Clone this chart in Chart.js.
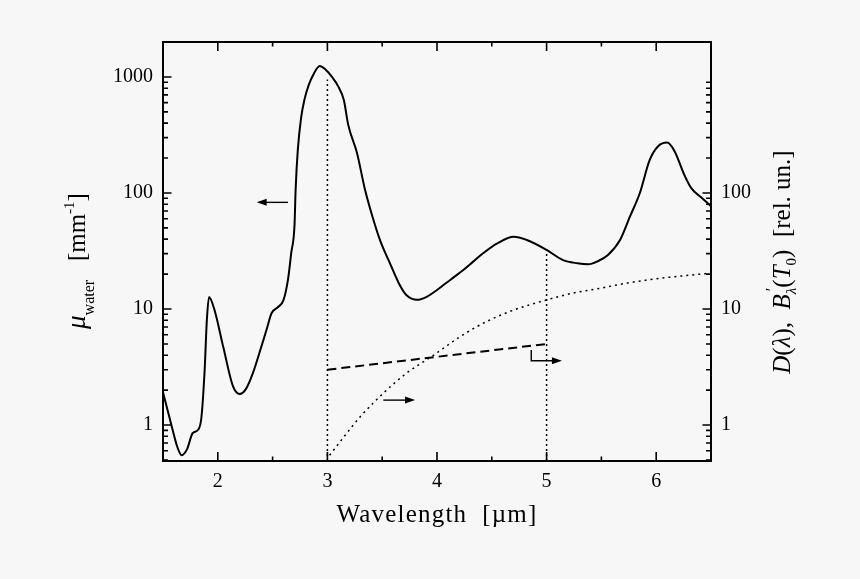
<!DOCTYPE html>
<html>
<head>
<meta charset="utf-8">
<script src="https://cdn.jsdelivr.net/npm/chart.js@4/dist/chart.umd.min.js"></script>
<style>
  html, body { margin: 0; background: #f7f7f7; }
  #wrap { width: 860px; height: 579px; }
</style>
</head>
<body>
<div id="wrap"><canvas id="chart"></canvas></div>
<script>
// water absorption coefficient, mm^-1 (left axis)
const wavelength = [1.50, 1.58, 1.63, 1.67, 1.72, 1.77, 1.82, 1.85, 1.88, 1.90,
  1.92, 1.97, 2.05, 2.14, 2.20, 2.26, 2.32, 2.39, 2.45, 2.49, 2.55,
  2.60, 2.64, 2.67, 2.70, 2.71, 2.73, 2.76, 2.79, 2.83, 2.87, 2.93,
  2.98, 3.04, 3.10, 3.15, 3.19, 3.27, 3.34, 3.40, 3.48, 3.57,
  3.66, 3.72, 3.82, 3.91, 4.00, 4.12, 4.24, 4.33, 4.42, 4.55,
  4.70, 4.82, 5.00, 5.15, 5.28, 5.38, 5.46, 5.56, 5.67, 5.76,
  5.85, 5.94, 6.02, 6.10, 6.17, 6.25, 6.32, 6.42, 6.50];
const muWater = [1.92, 0.97, 0.65, 0.55, 0.62, 0.85, 0.91, 1.15, 2.98, 8.0,
  12.7, 9.8, 4.7, 2.14, 1.85, 2.07, 2.8, 4.5, 6.9, 9.2, 10.4,
  12.0, 17.8, 30.4, 53, 106, 235, 443, 634, 853, 1041, 1244,
  1165, 1006, 825, 632, 386, 221, 110, 68, 39.3, 24.9,
  16.1, 13.2, 12.0, 12.8, 14.6, 17.8, 21.7, 25.6, 30.2, 36.8,
  42.0, 39.3, 32.3, 26.4, 24.8, 24.3, 25.6, 29.2, 39.3, 62.5,
  99.4, 192, 254, 272, 227, 148, 110, 90, 77];

// B'(T0), dotted, and D, dashed (right axis)
const bWavelength = [3.02, 3.15, 3.30, 3.51, 3.72, 3.97, 4.21, 4.45, 4.70, 5.00, 5.24, 5.49, 5.73, 6.04, 6.50];
const bPrime = [0.55, 0.79, 1.18, 1.88, 2.79, 4.01, 5.77, 7.78, 9.8, 11.97, 13.7, 15.1, 16.7, 18.4, 20.4];
const dWavelength = [3, 5];
const dValues = [3.0, 5.0];

// vertical dotted markers
const markerX = [3, 5];
const markerTop = [950, 31];

// arrows [x0, y0, x1, y1 ...], last pair is the tip
const arrowLeft = [2.64, 83, 2.355, 83];
const arrowRight = [3.51, 1.64, 3.80, 1.64];
const arrowCorner = [4.86, 4.43, 4.86, 3.58, 5.14, 3.58];

const xTicks = [2, 3, 4, 5, 6];
const xMinor = [2.5, 3.5, 4.5, 5.5];
const leftTicks = [1, 10, 100, 1000];
const rightTicks = [1, 10, 100];
const xMin = 1.5, xMax = 6.5;
const yMin = 0.49, yMax = 2000;

const serif = "'Liberation Serif', 'Times New Roman', serif";

function pts(xs, ys) {
  return xs.map((x, i) => ({ x: x, y: ys[i] }));
}

function minorLogTicks(lo, hi) {
  const out = [];
  for (let e = -1; e <= 3; e++) {
    for (let k = 2; k <= 9; k++) {
      const v = k * Math.pow(10, e);
      if (v > lo && v < hi) out.push(v);
    }
  }
  return out;
}

const frame = {
  id: "frame",
  afterDatasetsDraw(chart) {
    const { ctx, chartArea: a, scales } = chart;
    ctx.save();
    ctx.strokeStyle = "#000";
    ctx.lineWidth = 1.6;
    ctx.beginPath();
    for (const v of xTicks) {
      const p = scales.x.getPixelForValue(v);
      ctx.moveTo(p, a.bottom); ctx.lineTo(p, a.bottom - 9);
      ctx.moveTo(p, a.top); ctx.lineTo(p, a.top + 9);
    }
    for (const v of xMinor) {
      const p = scales.x.getPixelForValue(v);
      ctx.moveTo(p, a.bottom); ctx.lineTo(p, a.bottom - 4.5);
      ctx.moveTo(p, a.top); ctx.lineTo(p, a.top + 4.5);
    }
    for (const v of leftTicks) {
      const p = scales.y.getPixelForValue(v);
      ctx.moveTo(a.left, p); ctx.lineTo(a.left + 8.5, p);
    }
    for (const v of rightTicks) {
      const p = scales.y2.getPixelForValue(v);
      ctx.moveTo(a.right, p); ctx.lineTo(a.right - 8.5, p);
    }
    for (const v of minorLogTicks(yMin, yMax)) {
      const p = scales.y.getPixelForValue(v);
      ctx.moveTo(a.left, p); ctx.lineTo(a.left + 5, p);
      ctx.moveTo(a.right, p); ctx.lineTo(a.right - 5, p);
    }
    ctx.stroke();
    ctx.lineWidth = 2;
    ctx.strokeRect(a.left, a.top, a.right - a.left, a.bottom - a.top);

    // arrows
    ctx.lineWidth = 1.4;
    ctx.fillStyle = "#000";
    for (const arr of [arrowLeft, arrowRight, arrowCorner]) {
      const p = [];
      for (let i = 0; i < arr.length; i += 2) {
        p.push([scales.x.getPixelForValue(arr[i]), scales.y.getPixelForValue(arr[i + 1])]);
      }
      const [tx, ty] = p[p.length - 1];
      const [bx, by] = p[p.length - 2];
      const ang = Math.atan2(ty - by, tx - bx);
      ctx.beginPath();
      ctx.moveTo(p[0][0], p[0][1]);
      for (let i = 1; i < p.length - 1; i++) ctx.lineTo(p[i][0], p[i][1]);
      ctx.lineTo(tx - 8 * Math.cos(ang), ty - 8 * Math.sin(ang));
      ctx.stroke();
      ctx.beginPath();
      ctx.moveTo(tx, ty);
      ctx.lineTo(tx - 10 * Math.cos(ang) + 3.5 * Math.sin(ang), ty - 10 * Math.sin(ang) - 3.5 * Math.cos(ang));
      ctx.lineTo(tx - 10 * Math.cos(ang) - 3.5 * Math.sin(ang), ty - 10 * Math.sin(ang) + 3.5 * Math.cos(ang));
      ctx.closePath();
      ctx.fill();
    }
    ctx.restore();
  }
};

function richText(ctx, segs, x, y, angle) {
  const fontOf = s => (s.it ? "italic " : "") + (s.sz || 25) + "px " + serif;
  let w = 0;
  for (const s of segs) {
    ctx.font = fontOf(s);
    s.w = s.stack ? 0 : ctx.measureText(s.t).width;
    w += s.w;
  }
  ctx.save();
  ctx.translate(x, y);
  ctx.rotate(angle);
  ctx.fillStyle = "#000";
  ctx.textBaseline = "alphabetic";
  let cx = -w / 2;
  for (const s of segs) {
    ctx.font = fontOf(s);
    ctx.fillText(s.t, cx + (s.dx || 0), s.dy || 0);
    cx += s.w;
  }
  ctx.restore();
}

const titles = {
  id: "titles",
  afterDraw(chart) {
    const { ctx, chartArea: a } = chart;
    ctx.save();
    ctx.font = "25px " + serif;
    ctx.fillStyle = "#000";
    ctx.textAlign = "center";
    ctx.textBaseline = "alphabetic";
    ctx.letterSpacing = "1.2px";
    ctx.fillText("Wavelength  [\u00b5m]", (a.left + a.right) / 2, a.bottom + 61);
    ctx.letterSpacing = "0px";
    ctx.textAlign = "left";
    richText(ctx, [
      { t: "\u03bc", it: true, sz: 27 },
      { t: "water", sz: 16, dy: 9 },
      { t: "   [mm" },
      { t: "-1", sz: 15, dy: -11 },
      { t: "]" }
    ], a.left - 78, 261, -Math.PI / 2);
    richText(ctx, [
      { t: "D", it: true },
      { t: "(" },
      { t: "\u03bb", it: true },
      { t: "),  " },
      { t: "B", it: true },
      { t: "\u2032", sz: 17, dy: -13, dx: 3, stack: true },
      { t: "\u03bb", it: true, sz: 15, dy: 6 },
      { t: "(" },
      { t: "T", it: true },
      { t: "0", sz: 15, dy: 6 },
      { t: ")  [rel. un.]" }
    ], a.right + 79, 262, -Math.PI / 2);
    ctx.restore();
  }
};

const tickFont = { family: serif, size: 20 };

new Chart(document.getElementById("chart"), {
  type: "line",
  data: {
    datasets: [
      {
        data: pts(wavelength, muWater),
        yAxisID: "y",
        borderColor: "#000",
        borderWidth: 2,
        pointRadius: 0,
        cubicInterpolationMode: "monotone"
      },
      {
        data: pts(dWavelength, dValues),
        yAxisID: "y2",
        borderColor: "#000",
        borderWidth: 2,
        borderDash: [9, 5],
        pointRadius: 0
      },
      {
        data: pts(bWavelength, bPrime),
        yAxisID: "y2",
        borderColor: "#000",
        borderWidth: 1.5,
        borderDash: [2, 4],
        pointRadius: 0,
        cubicInterpolationMode: "monotone"
      },
      {
        data: pts([markerX[0], markerX[0]], [yMin, markerTop[0]]),
        yAxisID: "y",
        borderColor: "#000",
        borderWidth: 1.5,
        borderDash: [2, 3],
        pointRadius: 0
      },
      {
        data: pts([markerX[1], markerX[1]], [yMin, markerTop[1]]),
        yAxisID: "y",
        borderColor: "#000",
        borderWidth: 1.5,
        borderDash: [2, 3],
        pointRadius: 0
      }
    ]
  },
  options: {
    responsive: true,
    maintainAspectRatio: false,
    animation: false,
    layout: { padding: { top: 42, left: 0, right: 0, bottom: 0 } },
    plugins: { legend: { display: false }, tooltip: { enabled: false } },
    scales: {
      x: {
        type: "linear",
        min: xMin,
        max: xMax,
        grid: { display: false, drawTicks: false },
        border: { display: false },
        afterBuildTicks: s => { s.ticks = xTicks.map(v => ({ value: v })); },
        afterFit: s => { s.height = 118; },
        ticks: { font: tickFont, color: "#000", padding: 9, maxRotation: 0 }
      },
      y: {
        type: "logarithmic",
        position: "left",
        min: yMin,
        max: yMax,
        grid: { display: false, drawTicks: false },
        border: { display: false },
        afterBuildTicks: s => { s.ticks = leftTicks.map(v => ({ value: v })); },
        afterFit: s => { s.width = 163; },
        ticks: { font: tickFont, color: "#000", padding: 10, callback: v => String(v) }
      },
      y2: {
        type: "logarithmic",
        position: "right",
        min: yMin,
        max: yMax,
        grid: { display: false, drawTicks: false },
        border: { display: false },
        afterBuildTicks: s => { s.ticks = rightTicks.map(v => ({ value: v })); },
        afterFit: s => { s.width = 149; },
        ticks: { font: tickFont, color: "#000", padding: 10, callback: v => String(v) }
      }
    }
  },
  plugins: [frame, titles]
});
</script>
</body>
</html>
